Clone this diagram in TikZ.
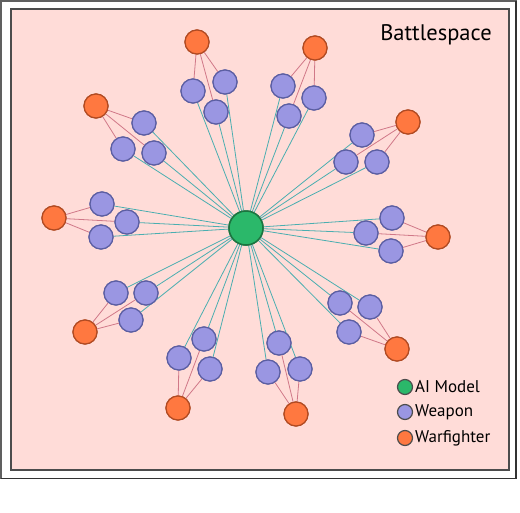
\documentclass[tikz,border=0pt]{standalone}
\usepackage{fontspec}
\setmainfont{PT Sans}
\definecolor{bgpink}{HTML}{FFDCD8}
\definecolor{tealc}{HTML}{4AAEB0}
\definecolor{pinkc}{HTML}{D07888}
\definecolor{wfill}{HTML}{9A96E2}
\definecolor{wdraw}{HTML}{5B5EA2}
\definecolor{ofill}{HTML}{FF7840}
\definecolor{odraw}{HTML}{B04A22}
\definecolor{gfill}{HTML}{2BB86A}
\definecolor{gdraw}{HTML}{1C7440}
\begin{document}
\begin{tikzpicture}[x=1pt,y=-1pt,
  weap/.style={circle,fill=wfill,draw=wdraw,line width=1.2pt,minimum size=24pt,inner sep=0pt},
  warf/.style={circle,fill=ofill,draw=odraw,line width=1.2pt,minimum size=24pt,inner sep=0pt},
  aim/.style={circle,fill=gfill,draw=gdraw,line width=1.5pt,minimum size=34pt,inner sep=0pt},
  tl/.style={draw=tealc,line width=0.8pt},
  pl/.style={draw=pinkc,line width=0.8pt},
  lg/.style={circle,line width=1.2pt,minimum size=15pt,inner sep=0pt,draw=gray!60!black},
  lt/.style={anchor=west,font=\fontsize{17}{19}\selectfont,inner sep=0pt}]
\useasboundingbox (0,0) rectangle (520,512);
\draw[gray!75!black,line width=1.6pt] (1,0.8) rectangle (516,478.5);
\draw[black!80,line width=1.2pt] (1,478.5) -- (516,478.5) -- (516,0.8);
\draw[fill=bgpink,draw=gray!60!black,line width=1.1pt] (11,9) rectangle (509,470);
\node[anchor=center,font=\fontsize{22.5}{24}\selectfont] (title) at (436,35) {Battlespace};
\coordinate (cc) at (246,228);
% warfighters
\node[warf] (o1) at (197,42) {};
\node[warf] (o2) at (315,48) {};
\node[warf] (o3) at (96,106) {};
\node[warf] (o4) at (408,122) {};
\node[warf] (o5) at (54,218) {};
\node[warf] (o6) at (438,237) {};
\node[warf] (o7) at (85,332) {};
\node[warf] (o8) at (397,349) {};
\node[warf] (o9) at (178,408) {};
\node[warf] (o10) at (296,414) {};
% weapons
\foreach \n/\p in {
 w1a/{(193,91)}, w1b/{(225,82)}, w1c/{(216,112)},
 w2a/{(283,86)}, w2b/{(314,98)}, w2c/{(289,116)},
 w3a/{(144,123)}, w3b/{(123,149)}, w3c/{(154,153)},
 w4a/{(362,135)}, w4b/{(346,162)}, w4c/{(377,162)},
 w5a/{(102,204)}, w5b/{(127,222)}, w5c/{(101,237)},
 w6a/{(392,218)}, w6b/{(366,233)}, w6c/{(391,251)},
 w7a/{(116,293)}, w7b/{(146,293)}, w7c/{(131,320)},
 w8a/{(340,303)}, w8b/{(370,307)}, w8c/{(349,332)},
 w9a/{(179,358)}, w9b/{(204,339)}, w9c/{(210,369)},
 w10a/{(268,372)}, w10b/{(279,343)}, w10c/{(300,369)}}
 { \node[weap] (\n) at \p {}; }
\node[aim] (ai) at (cc) {};
% connectors
\foreach \i in {1,...,10}{
  \foreach \s in {a,b,c}{
    \draw[tl] (ai) -- (w\i\s);
    \draw[pl] (o\i) -- (w\i\s);
  }
}
% redraw nodes on top of connectors
\foreach \i in {1,...,10}{
  \foreach \s in {a,b,c}{
    \path (w\i\s.center) node[weap] {};
  }
  \path (o\i.center) node[warf] {};
}
\path (ai.center) node[aim] {};
% legend
\node[lg,fill=gfill] (l1) at (405,387) {};
\node[lg,fill=wfill] (l2) at (405,412) {};
\node[lg,fill=ofill] (l3) at (405,438) {};
\node[lt] (t1) at (415,387) {AI Model};
\node[lt] (t2) at (415,412) {Weapon};
\node[lt] (t3) at (415,438) {Warfighter};
\end{tikzpicture}
\end{document}
